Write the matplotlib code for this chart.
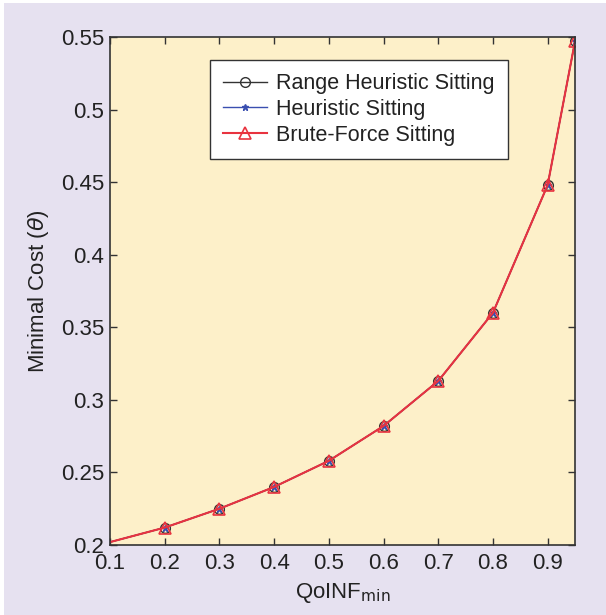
import matplotlib
matplotlib.use("Agg")
import matplotlib.pyplot as plt
from matplotlib.patches import Rectangle

x = [0.1, 0.2, 0.3, 0.4, 0.5, 0.6, 0.7, 0.8, 0.9, 0.95]
range_heuristic = [0.202, 0.212, 0.225, 0.240, 0.258, 0.282, 0.313, 0.360, 0.448, 0.547]
heuristic = [0.202, 0.212, 0.225, 0.240, 0.258, 0.282, 0.313, 0.360, 0.448, 0.547]
brute_force = [0.202, 0.212, 0.225, 0.240, 0.258, 0.282, 0.313, 0.360, 0.448, 0.547]
xticks = [0.1, 0.2, 0.3, 0.4, 0.5, 0.6, 0.7, 0.8, 0.9]
yticks = [0.2, 0.25, 0.3, 0.35, 0.4, 0.45, 0.5, 0.55]

plt.rcParams['font.family'] = ['Liberation Sans', 'DejaVu Sans']
fig = plt.figure(figsize=(6.06, 6.15), dpi=100, facecolor='white')
fig.patches.append(Rectangle((4/606, 0), 1, 1 - 3/615, transform=fig.transFigure,
                             facecolor='#e6e1f0', edgecolor='none', zorder=-10))
ax = fig.add_axes([110/606, 1 - 545/615, 465/606, 508/615])
ax.set_facecolor('#fdf0c9')

mk = list(range(1, len(x)))
ax.plot(x, range_heuristic, color='#333333', lw=1.0, marker='o', mfc='none', mec='#333333',
        ms=7, markevery=mk, label='Range Heuristic Sitting')
ax.plot(x, heuristic, color='#3a4fb0', lw=1.0, marker='*', mfc='#3a4fb0', mec='#3a4fb0',
        ms=5, markevery=mk, label='Heuristic Sitting')
ax.plot(x, brute_force, color='#e8333f', lw=1.5, marker='^', mfc='none', mec='#e8333f',
        ms=8, mew=1.2, markevery=mk, label='Brute-Force Sitting')

ax.set_xlim(0.1, 0.95)
ax.set_ylim(0.2, 0.55)
ax.set_xticks(xticks)
ax.set_xticklabels([f'{v:g}' for v in xticks])
ax.set_yticks(yticks)
ax.set_yticklabels([f'{v:g}' for v in yticks])
ax.tick_params(direction='in', top=True, right=True, length=5, width=1, labelsize=16,
               colors='#333333', labelcolor='#222222')
ax.tick_params(axis='x', pad=6)
ax.tick_params(axis='y', pad=4)
for s in ax.spines.values():
    s.set_color('#333333')
    s.set_linewidth(1.2)

ax.set_xlabel('QoINF$_{\\mathrm{min}}$', fontsize=16, color='#222222', labelpad=5)
ax.set_ylabel('Minimal Cost ($\\theta$)', fontsize=16, color='#222222', labelpad=7)

leg = ax.legend(loc='upper left', bbox_to_anchor=(0.215, 0.955), fontsize=15.5,
                frameon=True, fancybox=False, borderpad=0.62, labelspacing=0.22,
                handlelength=2.05, handletextpad=0.42, borderaxespad=0)
leg.get_frame().set_edgecolor('#333333')
leg.get_frame().set_linewidth(1.0)
leg.get_frame().set_facecolor('white')
leg.get_frame().set_alpha(1)
for t in leg.get_texts():
    t.set_color('#222222')

fig.savefig('out.png', dpi=100, facecolor=fig.get_facecolor())
